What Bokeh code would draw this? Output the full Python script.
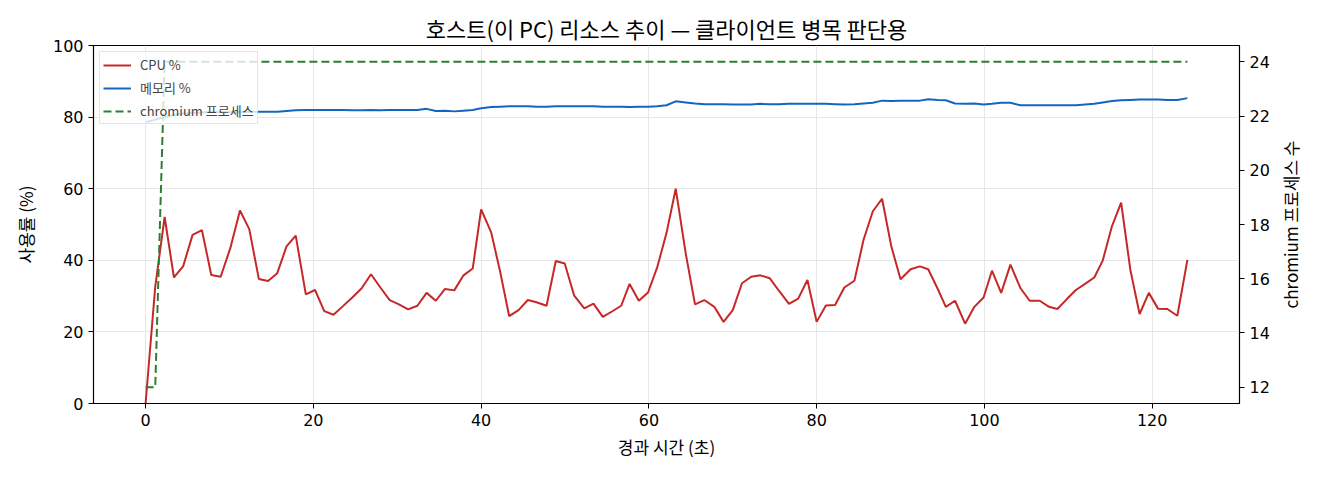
import math

from bokeh.plotting import figure
from bokeh.models import Range1d, LinearAxis, Legend, LegendItem, FixedTicker, Label
from bokeh.embed import file_html
from bokeh.resources import INLINE

# elapsed seconds of each sample
t_sec = [0.0, 1.15, 2.27, 3.38, 4.49, 5.6, 6.72, 7.83, 8.95, 10.1,
         11.25, 12.36, 13.5, 14.6, 15.7, 16.8, 17.9, 19.1, 20.2, 21.3,
         22.4, 23.53, 24.64, 25.76, 26.87, 27.99, 29.1, 30.2, 31.3, 32.4,
         33.5, 34.6, 35.7, 36.8, 37.9, 39.0, 40.0, 41.2, 42.3, 43.34,
         44.46, 45.57, 46.6, 47.8, 48.9, 49.97, 51.1, 52.3, 53.4, 54.5,
         55.6, 56.7, 57.7, 58.8, 59.9, 61.0, 62.1, 63.2, 64.4, 65.5,
         66.6, 67.8, 68.9, 70.0, 71.1, 72.2, 73.3, 74.4, 75.5, 76.7,
         77.8, 78.9, 80.0, 81.1, 82.2, 83.3, 84.5, 85.6, 86.7, 87.8,
         88.9, 90.0, 91.2, 92.3, 93.3, 94.4, 95.4, 96.5, 97.7, 98.8,
         99.9, 100.9, 102.0, 103.1, 104.3, 105.4, 106.6, 107.7, 108.7, 109.8,
         110.9, 112.0, 113.1, 114.1, 115.2, 116.3, 117.4, 118.5, 119.6, 120.7,
         121.8, 123.0, 124.2]

cpu_pct = [0.0, 32.6, 52.1, 35.2, 38.4, 47.1, 48.4, 35.9, 35.4, 43.4,
           53.9, 48.7, 34.8, 34.2, 36.4, 43.9, 46.9, 30.5, 31.7, 25.8,
           24.8, 27.2, 29.6, 32.2, 36.1, 32.4, 28.9, 27.7, 26.3, 27.3,
           30.9, 28.7, 32.0, 31.6, 35.8, 37.7, 54.2, 47.8, 36.5, 24.4,
           26.1, 28.9, 28.3, 27.3, 39.8, 39.1, 30.1, 26.6, 27.9, 24.2,
           25.7, 27.3, 33.4, 28.7, 31.0, 38.1, 47.6, 60.0, 41.8, 27.7,
           28.9, 27.0, 22.8, 26.1, 33.6, 35.4, 35.8, 35.0, 31.5, 27.8,
           29.3, 34.5, 22.8, 27.4, 27.5, 32.4, 34.3, 45.8, 53.7, 57.2,
           43.9, 34.7, 37.5, 38.3, 37.5, 32.2, 27.0, 28.7, 22.3, 27.0,
           29.6, 37.1, 30.9, 38.8, 32.2, 28.7, 28.7, 27.0, 26.4, 29.1,
           31.7, 33.4, 35.2, 39.9, 49.5, 56.1, 37.3, 25.0, 30.9, 26.5,
           26.4, 24.5, 40.1]

mem_pct = [78.6, 79.3, 80.0, 80.6, 81.0, 81.2, 81.3, 81.4, 81.4, 81.4,
           81.4, 81.4, 81.5, 81.5, 81.5, 81.7, 81.9, 82.0, 82.0, 82.0,
           82.0, 82.0, 81.9, 81.9, 82.0, 81.9, 82.0, 82.0, 82.0, 82.0,
           82.3, 81.7, 81.8, 81.6, 81.8, 82.0, 82.5, 82.8, 82.9, 83.0,
           83.0, 83.0, 82.9, 82.9, 83.0, 83.0, 83.0, 83.0, 83.0, 82.9,
           82.9, 82.9, 82.8, 82.9, 82.9, 83.0, 83.3, 84.4, 84.1, 83.8,
           83.6, 83.6, 83.6, 83.5, 83.5, 83.5, 83.7, 83.6, 83.6, 83.7,
           83.7, 83.7, 83.7, 83.7, 83.6, 83.5, 83.6, 83.8, 84.0, 84.6,
           84.5, 84.6, 84.6, 84.6, 85.0, 84.8, 84.7, 83.8, 83.7, 83.8,
           83.5, 83.7, 84.0, 84.0, 83.3, 83.3, 83.3, 83.3, 83.3, 83.3,
           83.3, 83.5, 83.7, 84.1, 84.5, 84.7, 84.8, 84.9, 84.9, 84.9,
           84.8, 84.8, 85.3]

chromium_procs = [12, 12, 24, 24, 24, 24, 24, 24, 24, 24,
                  24, 24, 24, 24, 24, 24, 24, 24, 24, 24,
                  24, 24, 24, 24, 24, 24, 24, 24, 24, 24,
                  24, 24, 24, 24, 24, 24, 24, 24, 24, 24,
                  24, 24, 24, 24, 24, 24, 24, 24, 24, 24,
                  24, 24, 24, 24, 24, 24, 24, 24, 24, 24,
                  24, 24, 24, 24, 24, 24, 24, 24, 24, 24,
                  24, 24, 24, 24, 24, 24, 24, 24, 24, 24,
                  24, 24, 24, 24, 24, 24, 24, 24, 24, 24,
                  24, 24, 24, 24, 24, 24, 24, 24, 24, 24,
                  24, 24, 24, 24, 24, 24, 24, 24, 24, 24,
                  24, 24, 24]

x_ticks = [0, 20, 40, 60, 80, 100, 120]
pct_ticks = [0, 20, 40, 60, 80, 100]
proc_ticks = [12, 14, 16, 18, 20, 22, 24]

FONT = "Noto Sans CJK KR"
NUM_FONT = "DejaVu Sans"

x_pad = (t_sec[-1] - t_sec[0]) * 0.05
p_lo = min(chromium_procs) - (max(chromium_procs) - min(chromium_procs)) * 0.05
p_hi = max(chromium_procs) + (max(chromium_procs) - min(chromium_procs)) * 0.05

p = figure(width=1304, height=464, output_backend="svg", toolbar_location=None,
           x_range=Range1d(t_sec[0] - x_pad, t_sec[-1] + x_pad),
           y_range=Range1d(0, 100),
           min_border_left=93, min_border_right=65,
           min_border_top=45, min_border_bottom=61)
p.extra_y_ranges = {"proc": Range1d(p_lo, p_hi)}

p.title.text = "호스트(이 PC) 리소스 추이 — 클라이언트 병목 판단용"
p.title.align = "center"
p.title.text_font = FONT
p.title.text_font_size = "22px"
p.title.text_font_style = "normal"
p.title.text_color = "black"
p.title.standoff = 3

p.outline_line_color = "black"
p.outline_line_width = 1.2
p.background_fill_color = "white"
p.border_fill_color = "white"

p.xgrid.ticker = FixedTicker(ticks=x_ticks)
p.ygrid.ticker = FixedTicker(ticks=pct_ticks)
p.grid.grid_line_color = "#e6e6e6"
p.grid.grid_line_width = 1

p.xaxis.ticker = FixedTicker(ticks=x_ticks)
p.yaxis.ticker = FixedTicker(ticks=pct_ticks)
p.xaxis.axis_label = "경과 시간 (초)"
p.yaxis.axis_label = "사용률 (%)"

right_axis = LinearAxis(y_range_name="proc", ticker=FixedTicker(ticks=proc_ticks))
p.add_layout(right_axis, "right")

for ax in p.axis:
    ax.axis_label_text_font = FONT
    ax.axis_label_text_font_size = "17px"
    ax.axis_label_text_font_style = "normal"
    ax.axis_label_text_color = "black"
    ax.major_label_text_font = NUM_FONT
    ax.major_label_text_font_size = "16px"
    ax.major_label_text_color = "black"
    ax.axis_line_color = "black"
    ax.major_tick_line_color = "black"
    ax.major_tick_out = 5
    ax.major_tick_in = 0
    ax.minor_tick_line_color = None
    ax.major_label_standoff = 5
p.xaxis.axis_label_standoff = 5
p.yaxis.axis_label_standoff = 12

# right label drawn by hand so it reads bottom to top; kept in the side
# panel so the frame does not clip it
p.add_layout(Label(x=t_sec[-1] + x_pad, x_offset=51, y=(p_lo + p_hi) / 2,
                   y_range_name="proc", text="chromium 프로세스 수", angle=math.pi / 2,
                   text_align="center", text_baseline="middle",
                   text_font=FONT, text_font_size="17px", text_color="black"), "right")

cpu = p.line(t_sec, cpu_pct, line_color="#c62828", line_width=2)
mem = p.line(t_sec, mem_pct, line_color="#1565c0", line_width=2)
proc = p.line(t_sec, chromium_procs, y_range_name="proc", line_color="#2e7d32",
              line_width=2, line_dash="8 4")

legend = Legend(items=[LegendItem(label="CPU %", renderers=[cpu]),
                       LegendItem(label="메모리 %", renderers=[mem]),
                       LegendItem(label="chromium 프로세스", renderers=[proc])],
                location="top_left")
legend.label_text_font = FONT
legend.label_text_font_size = "13px"
legend.glyph_width = 28
legend.glyph_height = 16
legend.label_height = 16
legend.spacing = 4
legend.padding = 3
legend.margin = 6
legend.label_standoff = 9
legend.border_line_color = "#cccccc"
legend.background_fill_alpha = 0.8
p.add_layout(legend)

open("out.html", "w").write(file_html(p, INLINE))
